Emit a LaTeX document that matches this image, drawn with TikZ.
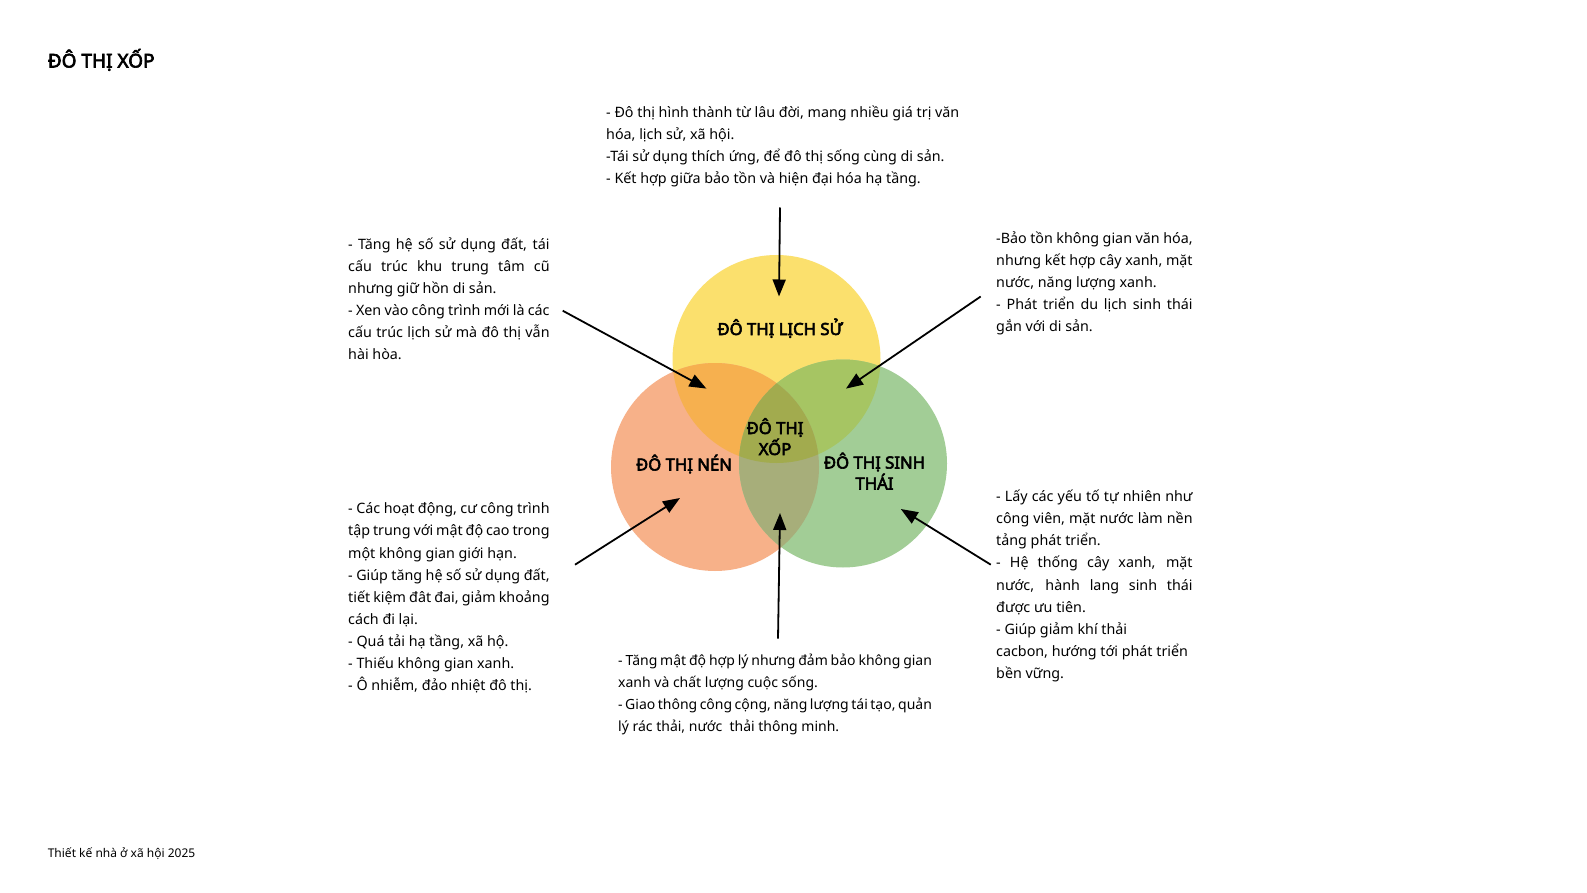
\documentclass[tikz,border=0pt]{standalone}
\usepackage{fontspec}
\setmainfont{Noto Sans}[AutoFakeBold=3.4]
\usetikzlibrary{arrows.meta}
\definecolor{cY}{HTML}{FBE06D}
\definecolor{cO}{HTML}{F7B189}
\definecolor{cG}{HTML}{A2CD96}
\definecolor{cYO}{HTML}{F6B04F}
\definecolor{cYG}{HTML}{A6C563}
\definecolor{cOG}{HTML}{A7AE7A}
\definecolor{cYOG}{HTML}{A2AB4E}
\newcommand{\J}[1]{\makebox[\linewidth][s]{#1}}
\tikzset{
  body/.style={anchor=base west, inner sep=0pt, font=\fontsize{14.3pt}{22.1pt}\selectfont},
  bodysm/.style={body, font=\fontsize{14pt}{22.1pt}\selectfont},
  lbl/.style={anchor=base, inner sep=0pt, font=\bfseries\fontsize{16.7pt}{21pt}\selectfont},
  arr/.style={line width=1.8pt, -{Triangle[length=17pt,width=13pt]}},
  venn/.style={circle, minimum size=208pt, inner sep=0pt, draw=none},
}
\begin{document}
\begin{tikzpicture}[x=1pt,y=-1pt]
\useasboundingbox[fill=white] (0,0) rectangle (1587,893);

% circles
\node[venn, fill=cY] (Y) at (776.5,359) {};
\node[venn, fill=cO] (O) at (715,467) {};
\node[venn, fill=cG] (G) at (843,463.5) {};
\begin{scope}
  \clip (Y.center) circle[radius=104pt];
  \fill[cYO] (O.center) circle[radius=104pt];
  \fill[cYG] (G.center) circle[radius=104pt];
\end{scope}
\begin{scope}
  \clip (O.center) circle[radius=104pt];
  \fill[cOG] (G.center) circle[radius=104pt];
\end{scope}
\begin{scope}
  \clip (Y.center) circle[radius=104pt];
  \clip (O.center) circle[radius=104pt];
  \fill[cYOG] (G.center) circle[radius=104pt];
\end{scope}

% title and footer
\node[anchor=base west, inner sep=0pt, font=\bfseries\fontsize{19pt}{22pt}\selectfont] (title) at (47.6,67.5) {ĐÔ THỊ XỐP};
\node[anchor=base west, inner sep=0pt, font=\fontsize{12pt}{14pt}\selectfont] (footer) at (47.6,857.5) {Thiết kế nhà ở xã hội 2025};

% circle labels
\node[lbl] (lY) at (780,335) {ĐÔ THỊ LỊCH SỬ};
\node[lbl] (lC) at (775,434) {\parbox[t]{100pt}{\centering ĐÔ THỊ\\XỐP}};
\node[lbl] (lO) at (684,470.5) {ĐÔ THỊ NÉN};
\node[lbl] (lG) at (874.5,468.5) {\parbox[t]{130pt}{\centering ĐÔ THỊ SINH\\THÁI}};

% text blocks
\node[body] (tTop) at (606,117.5) {\parbox[t]{380pt}{\raggedright
- Đô thị hình thành từ lâu đời, mang nhiều giá trị văn\\
hóa, lịch sử, xã hội.\\
-Tái sử dụng thích ứng, để đô thị sống cùng di sản.\\
- Kết hợp giữa bảo tồn và hiện đại hóa hạ tầng.}};

\node[body] (tLT) at (348,249.5) {\parbox[t]{201.4pt}{%
\J{- Tăng hệ số sử dụng đất, tái}\\
\J{cấu trúc khu trung tâm cũ}\\
nhưng giữ hồn di sản.\\
\J{- Xen vào công trình mới là các}\\
\J{cấu trúc lịch sử mà đô thị vẫn}\\
hài hòa.}};

\node[body] (tRT) at (996,243.5) {\parbox[t]{196.4pt}{%
\J{-Bảo tồn không gian văn hóa,}\\
\J{nhưng kết hợp cây xanh, mặt}\\
nước, năng lượng xanh.\\
\J{- Phát triển du lịch sinh thái}\\
gắn với di sản.}};

\node[body] (tLB) at (348,513.8) {\parbox[t]{201.4pt}{%
\J{- Các hoạt động, cư công trình}\\
\J{tập trung với mật độ cao trong}\\
một không gian giới hạn.\\
\J{- Giúp tăng hệ số sử dụng đất,}\\
\J{tiết kiệm đât đai, giảm khoảng}\\
cách đi lại.\\
- Quá tải hạ tầng, xã hộ.\\
- Thiếu không gian xanh.\\
- Ô nhiễm, đảo nhiệt đô thị.}};

\node[bodysm] (tB) at (618,665.6) {\parbox[t]{313.8pt}{%
\J{- Tăng mật độ hợp lý nhưng đảm bảo không gian}\\
xanh và chất lượng cuộc sống.\\
\J{- Giao thông công cộng, năng lượng tái tạo, quản}\\
lý rác thải, nước\ \ thải thông minh.}};

\node[body] (tRB) at (996,501.6) {\parbox[t]{196.4pt}{%
\J{- Lấy các yếu tố tự nhiên như}\\
\J{công viên, mặt nước làm nền}\\
tảng phát triển.\\
\J{- Hệ thống cây xanh, mặt}\\
\J{nước, hành lang sinh thái}\\
được ưu tiên.\\
- Giúp giảm khí thải\\
cacbon, hướng tới phát triển\\
bền vững.}};

% arrow endpoints
\coordinate (a1s) at (780,207.5);   \coordinate (a1e) at (779,296.5);
\coordinate (a2s) at (562.7,310.7); \coordinate (a2e) at (706.4,388.6);
\coordinate (a3s) at (980.7,296.5); \coordinate (a3e) at (846,388.6);
\coordinate (a4s) at (575,564.7);   \coordinate (a4e) at (680,498);
\coordinate (a5s) at (778,638.6);   \coordinate (a5e) at (780,513);
\coordinate (a6s) at (990.8,564.7); \coordinate (a6e) at (900.8,509);
\draw[arr] (a1s) -- (a1e);
\draw[arr] (a2s) -- (a2e);
\draw[arr] (a3s) -- (a3e);
\draw[arr] (a4s) -- (a4e);
\draw[arr] (a5s) -- (a5e);
\draw[arr] (a6s) -- (a6e);
\end{tikzpicture}
\end{document}
